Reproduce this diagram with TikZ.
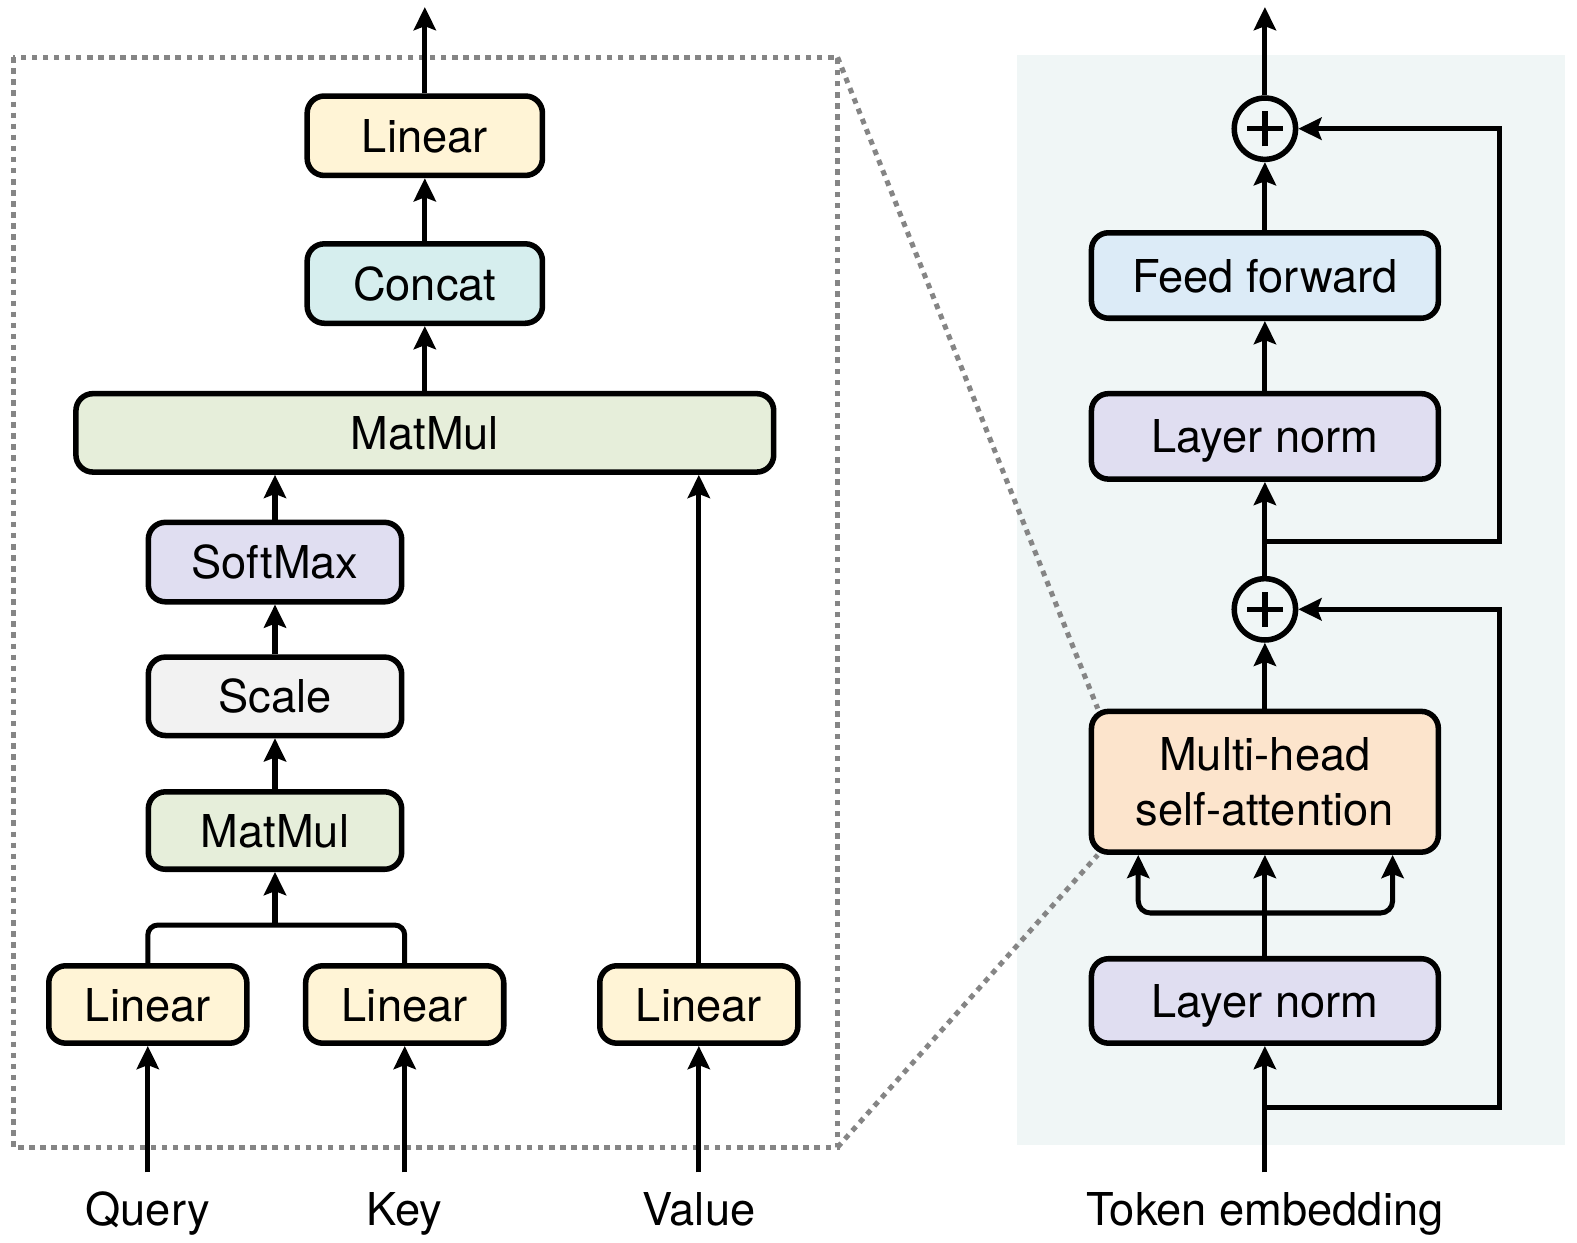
\documentclass[tikz,border=0pt]{standalone}
\usepackage{fontspec}
\setmainfont{TeX Gyre Heros}
\usetikzlibrary{arrows.meta,backgrounds,calc}
\definecolor{cLin}{HTML}{FFF4D6}
\definecolor{cCon}{HTML}{D6EEEE}
\definecolor{cMat}{HTML}{E6EEDA}
\definecolor{cSm}{HTML}{E0DEF1}
\definecolor{cSc}{HTML}{F2F2F2}
\definecolor{cFF}{HTML}{DCEBF7}
\definecolor{cMH}{HTML}{FCE4CC}
\definecolor{cPanel}{HTML}{F0F6F6}
\definecolor{cDot}{HTML}{858585}
\begin{document}
\begin{tikzpicture}[x=1pt,y=-1pt,
  boxbase/.style={draw=black, line width=5.5pt, rounded corners=17pt,
    font=\fontsize{45}{55}\selectfont, inner sep=0pt, anchor=center},
  box/.style={boxbase, text height=33pt, text depth=0pt},
  arr/.style={draw=black, line width=5pt, -{Stealth[length=23pt,width=22pt,inset=4pt]}},
  ln/.style={draw=black, line width=5pt},
  lbl/.style={font=\fontsize{45}{55}\selectfont, text height=33pt, text depth=0pt, inner sep=0pt},
  dots/.style={draw=cDot, line width=5pt, dash pattern=on 5.5pt off 5.5pt},
  plus/.style={circle, draw=black, line width=5.5pt, minimum size=61pt, inner sep=0pt,
    path picture={
      \draw[black, line width=5.5pt] ([xshift=-17.5pt]path picture bounding box.center) -- ([xshift=17.5pt]path picture bounding box.center);
      \draw[black, line width=5.5pt] ([yshift=-17.5pt]path picture bounding box.center) -- ([yshift=17.5pt]path picture bounding box.center);
    }},
]
\useasboundingbox (0,0) rectangle (1568.4,1236.2);

% ---------- left: multi-head attention detail ----------
\node[box, fill=cLin, minimum width=234pt, minimum height=79pt] (lin4) at (422.5,135) {Linear};
\node[box, fill=cCon, minimum width=234pt, minimum height=79pt] (cat) at (422.5,282) {Concat};
\node[box, fill=cMat, minimum width=694pt, minimum height=78pt] (mm1) at (422.5,430.5) {MatMul};
\node[box, fill=cSm, minimum width=252pt, minimum height=79pt] (sm) at (273.5,559) {SoftMax};
\node[box, fill=cSc, minimum width=252pt, minimum height=78pt] (sc) at (273.5,692.5) {Scale};
\node[box, fill=cMat, minimum width=252pt, minimum height=77pt] (mm2) at (273.5,826) {MatMul};
\node[box, fill=cLin, minimum width=197pt, minimum height=77pt] (lq) at (147,999) {Linear};
\node[box, fill=cLin, minimum width=197pt, minimum height=77pt] (lk) at (402.5,999) {Linear};
\node[box, fill=cLin, minimum width=197pt, minimum height=77pt] (lv) at (695,999) {Linear};

\node[lbl] (tq) at (147,1202) {Query};
\node[lbl] (tk) at (402.5,1202) {Key};
\node[lbl] (tv) at (695,1202) {Value};

\coordinate (o1) at (422.5,7);
\coordinate (qk) at (273.5,920);
\coordinate (iq) at (147,1166);
\coordinate (ik) at (402.5,1166);
\coordinate (iv) at (695,1166);

\draw[arr] (lin4.north) -- (o1);
\draw[arr] (cat.north) -- (lin4.south);
\draw[arr] (mm1.north) -- (cat.south);
\draw[arr] (sm.north) -- (sm.north |- mm1.south);
\draw[arr] (sc.north) -- (sm.south);
\draw[arr] (mm2.north) -- (sc.south);
\draw[ln, rounded corners=10pt] (lq.north) |- (qk) -| (lk.north);
\draw[arr] (qk) -- (mm2.south);
\draw[arr] (lv.north) -- (lv.north |- mm1.south);
\draw[arr] (iq) -- (lq.south);
\draw[arr] (ik) -- (lk.south);
\draw[arr] (iv) -- (lv.south);

% ---------- right: transformer block ----------
\node[box, fill=cSm, minimum width=345pt, minimum height=84pt] (ln1) at (1258,995.5) {Layer norm};
\node[boxbase, fill=cMH, minimum width=345pt, minimum height=140pt, align=center] (mh) at (1258,777.5) {Multi-head\\self-attention};
\node[plus] (p1) at (1258,606) {};
\node[box, fill=cSm, minimum width=345pt, minimum height=85pt] (ln2) at (1258,434) {Layer norm};
\node[box, fill=cFF, minimum width=345pt, minimum height=85pt] (ff) at (1258,274) {Feed forward};
\node[plus] (p2) at (1258,128) {};
\node[lbl] (tok) at (1258,1202) {Token embedding};

\coordinate (o2) at (1258,7);
\coordinate (it) at (1258,1166);
\coordinate (sk1) at (1258,1101);
\coordinate (sk2) at (1258,539);
\coordinate (r1) at (1491,606);
\coordinate (r2) at (1491,128);
\coordinate (jn) at (1258,908);
\coordinate (mhl) at ([xshift=-126pt]mh.south);
\coordinate (mhr) at ([xshift=127pt]mh.south);

\draw[arr] (it) -- (ln1.south);
\draw[arr] (sk1) -| (r1) -- (p1.east);
\draw[arr] (ln1.north) -- (mh.south);
\draw[arr, rounded corners=12pt] (jn) -| (mhl);
\draw[arr, rounded corners=12pt] (jn) -| (mhr);
\draw[arr] (mh.north) -- (p1.south);
\draw[arr] (p1.north) -- (ln2.south);
\draw[arr] (sk2) -| (r2) -- (p2.east);
\draw[arr] (ln2.north) -- (ff.south);
\draw[arr] (ff.north) -- (p2.south);
\draw[arr] (p2.north) -- (o2);

% ---------- background: panel and zoom frame ----------
\begin{scope}[on background layer]
  \fill[cPanel] (1011,55) rectangle (1556,1139);
  \coordinate (dtl) at (13,57);
  \coordinate (dtr) at (833,57);
  \coordinate (dbr) at (833,1141);
  \draw[dots] (dtl) rectangle (dbr);
  \draw[dots] (dtr) -- ([xshift=9pt]mh.north west);
  \draw[dots] (dbr) -- ([xshift=9pt]mh.south west);
\end{scope}
\end{tikzpicture}
\end{document}
